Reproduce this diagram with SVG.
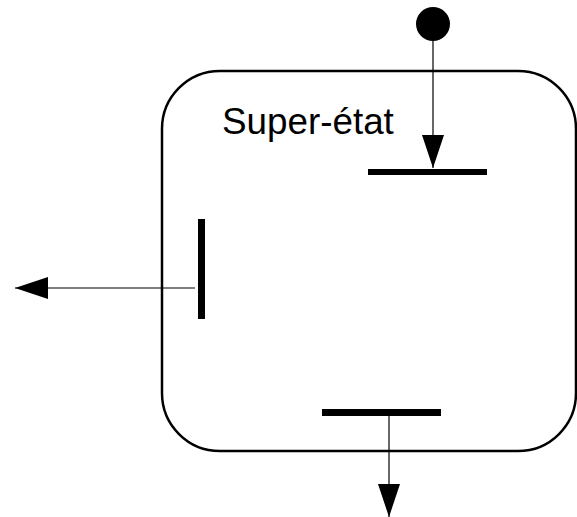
<svg xmlns="http://www.w3.org/2000/svg" width="577" height="517" viewBox="0 0 577 517">
<style>
.state{fill:none;stroke:#000;stroke-width:2.5}
.bar{fill:#000}
.conn{stroke:#000;stroke-width:1.2;fill:none}
.lbl{font-family:"Liberation Sans",Arial,sans-serif;font-size:36.8px;fill:#000}
</style>
<defs>
<marker id="arr" viewBox="0 0 33 22" refX="33" refY="11" markerWidth="33" markerHeight="22" markerUnits="userSpaceOnUse" orient="auto">
<path d="M0,0 L33,11 L0,22 Z" fill="#000"/>
</marker>
</defs>
<g id="superstate">
<rect class="state" x="162" y="71" width="414" height="380" rx="58" ry="58"/>
<text class="lbl" x="222" y="134">Super-état</text>
</g>
<g id="initial">
<circle cx="433" cy="24" r="17" fill="#000"/>
</g>
<g id="entry">
<rect class="bar" x="368" y="169" width="119" height="6"/>
</g>
<g id="exitLeft">
<rect class="bar" x="198" y="219" width="7" height="100"/>
</g>
<g id="exitBottom">
<rect class="bar" x="322" y="409" width="119" height="7"/>
</g>
<g id="connectors">
<line class="conn" x1="433" y1="40" x2="433" y2="168" marker-end="url(#arr)"/>
<line class="conn" x1="195" y1="288" x2="15" y2="288" marker-end="url(#arr)"/>
<line class="conn" x1="389" y1="416" x2="389" y2="517" marker-end="url(#arr)"/>
</g>
</svg>
